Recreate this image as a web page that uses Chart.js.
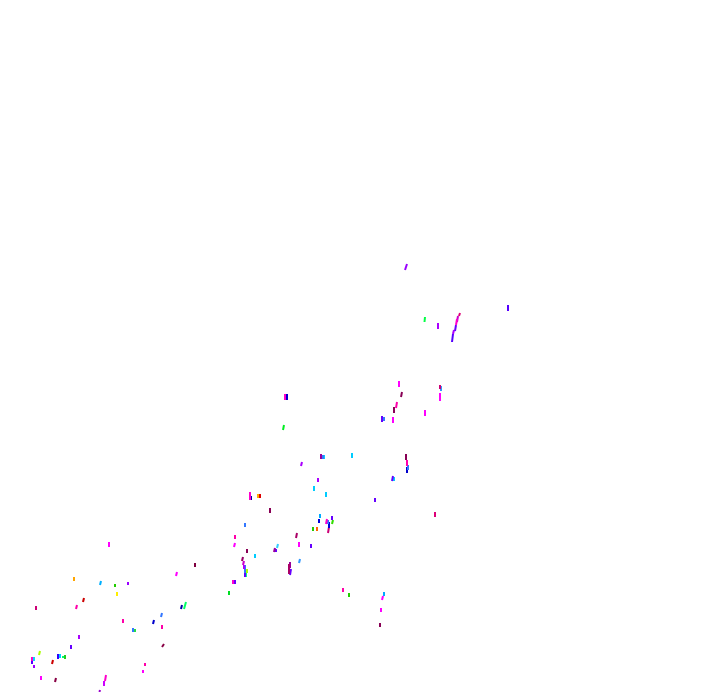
<!DOCTYPE html>
<html>
<head>
<meta charset="utf-8">
<script src="https://cdn.jsdelivr.net/npm/chart.js@4.4.1/dist/chart.umd.min.js"></script>
<style>
  html, body { margin: 0; padding: 0; background: #ffffff; }
  #wrap { width: 720px; height: 692px; position: relative; }
</style>
</head>
<body>
<div id="wrap"><canvas id="chart"></canvas></div>
<script>
// each stroke: start (lower end) and end (upper end), depth measured from top
const strokeX0 = [405, 424.5, 438, 459, 456, 457, 455, 453, 452, 508,
  195, 176, 74, 100, 115, 128, 117, 83, 36, 76,
  184, 181, 161, 153, 123, 133, 135, 162, 162, 79,
  71, 39, 58, 60, 63, 65, 32, 34, 32, 34,
  52, 145, 143, 41, 55, 105, 103, 99.5, 285, 287,
  283, 321, 323, 324, 352, 301, 318, 314, 326, 250,
  251, 258, 260, 270, 245, 235, 234, 247, 255, 242,
  243, 244, 245, 245, 247, 246, 233, 235, 229, 274,
  276, 277, 296, 299, 311, 289, 290, 290, 299, 313,
  317, 320, 319, 326, 328, 329, 328, 332, 332, 343,
  349, 399, 440, 441, 440, 401, 396, 394, 382, 384,
  393, 425, 406, 407, 408, 407, 392, 394, 375, 435,
  384, 382, 381, 380, 108]
const strokeX1 = [407, 425, 438, 460, 457, 458, 456, 454, 453, 508,
  195, 177, 74, 101, 115, 128, 117, 84, 36, 77,
  186, 182, 162, 154, 123, 133, 135, 162, 164, 79,
  71, 40, 58, 60, 63, 65, 32, 34, 32, 34,
  53, 145, 143, 41, 56, 106, 104, 100, 285, 287,
  284, 321, 323, 324, 352, 302, 318, 314, 326, 250,
  251, 258, 260, 270, 245, 235, 235, 247, 255, 243,
  244, 244, 245, 245, 247, 246, 233, 235, 229, 275,
  276, 278, 297, 299, 311, 289, 290, 291, 300, 313,
  317, 320, 319, 327, 328, 329, 329, 332, 333, 343,
  349, 399, 440, 441, 440, 402, 397, 394, 382, 384,
  393, 425, 406, 407, 408, 407, 393, 394, 375, 435,
  384, 383, 381, 380, 109]
const strokeY0 = [270, 322, 329, 316, 325, 322, 331, 334, 342, 311,
  567, 576, 581, 585, 587, 585, 596, 602, 610, 609,
  609, 609, 617, 624, 623, 632, 632, 629, 647, 639,
  649, 655, 659, 658, 658, 659, 661, 661, 664, 668,
  664, 666, 673, 680, 682, 681, 685, 692, 400, 400,
  430, 459, 459, 459, 458, 466, 482, 491, 497, 500,
  500, 498, 498, 513, 527, 539, 547, 553, 558, 561,
  565, 569, 573, 577, 573, 577, 584, 584, 595, 552,
  552, 548, 538, 547, 548, 574, 568, 575, 563, 531,
  531, 518, 523, 524, 524, 528, 533, 520, 524, 592,
  597, 387, 389, 391, 401, 397, 408, 413, 422, 421,
  423, 416, 460, 466, 470, 473, 481, 481, 502, 517,
  596, 600, 612, 627, 546]
const strokeY1 = [264, 317, 323, 313, 319, 316, 325, 330, 334, 305,
  563, 572, 577, 581, 584, 582, 592, 598, 606, 605,
  602, 605, 613, 620, 619, 628, 629, 625, 644, 635,
  645, 651, 654, 654, 656, 655, 657, 657, 661, 665,
  660, 663, 670, 676, 678, 675, 681, 690, 394, 394,
  425, 454, 455, 455, 453, 462, 478, 486, 492, 492,
  496, 494, 494, 508, 523, 535, 543, 549, 554, 557,
  561, 565, 565, 570, 569, 573, 580, 580, 591, 548,
  549, 544, 533, 542, 544, 564, 562, 569, 559, 527,
  527, 514, 519, 519, 520, 522, 527, 516, 520, 588,
  593, 381, 385, 386, 393, 392, 402, 407, 416, 417,
  417, 410, 454, 460, 465, 467, 476, 477, 498, 512,
  592, 596, 608, 623, 542]
const strokeColor = ["#9900ff", "#00ff44", "#aa00ff", "#dd0077", "#ff00cc", "#cc00cc", "#6600ff", "#aa00ff", "#5500ff", "#5500ff",
  "#800040", "#ff00ff", "#ffa500", "#00b0ff", "#22cc00", "#9900ff", "#ffee00", "#cc0000", "#cc0077", "#ff00aa",
  "#00ff66", "#0000aa", "#3377ff", "#0000cc", "#ff00aa", "#3377ff", "#22dd44", "#ff00aa", "#880044", "#aa00ff",
  "#6600ff", "#aaff00", "#3300ff", "#00d0ff", "#00ff66", "#22cc22", "#ff00cc", "#00ddff", "#5500ff", "#9900ff",
  "#cc0000", "#ff00aa", "#ff00ff", "#ff00ff", "#880044", "#ff00cc", "#cc00ff", "#9900cc", "#ff00cc", "#0000cc",
  "#00ee22", "#990099", "#3377ff", "#00ccff", "#00ccff", "#aa00ff", "#aa00ff", "#00ccff", "#00ccff", "#ff00cc",
  "#0000aa", "#ffaa00", "#dd0000", "#880055", "#3377ff", "#ff00aa", "#ff00ff", "#880055", "#00ccff", "#990066",
  "#cc00cc", "#aa00ff", "#3377ff", "#6600ff", "#aaff00", "#00ff88", "#ff00cc", "#6600ff", "#00dd22", "#990099",
  "#6600ff", "#33ccff", "#aa0066", "#ff00ff", "#6600ff", "#aa0066", "#990099", "#6600ff", "#3399ff", "#22cc00",
  "#ff6600", "#00aaff", "#0000dd", "#ff00cc", "#3377ff", "#0000dd", "#cc0077", "#6600ff", "#33dd00", "#ff00aa",
  "#22cc00", "#ff00ff", "#cc0077", "#3399ff", "#ff00ff", "#880055", "#ff00aa", "#880055", "#6600ff", "#3377ff",
  "#ff00ff", "#ff00ff", "#880055", "#ff00aa", "#3377ff", "#0000cc", "#6600ff", "#00ccff", "#6600ff", "#dd0077",
  "#00aaff", "#ff00ff", "#ff00ff", "#880055", "#ff00ff"]

// montar um dataset por traço
const datasets = strokeX0.map((x0, i) => ({
  data: [
    { x: x0, y: strokeY0[i] },
    { x: strokeX1[i], y: strokeY1[i] },
  ],
  showLine: true,
  borderColor: strokeColor[i],
  borderWidth: 2,
  borderCapStyle: "butt",
  pointRadius: 0,
  pointHoverRadius: 0,
  fill: false,
}))

const ctx = document.getElementById("chart").getContext("2d")
new Chart(ctx, {
  type: "scatter",
  data: { datasets },
  options: {
    responsive: true,
    maintainAspectRatio: false,
    animation: false,
    layout: { padding: 0 },
    plugins: {
      legend: { display: false },
      tooltip: { enabled: false },
    },
    scales: {
      x: { type: "linear", min: 0, max: 720, display: false },
      y: { type: "linear", min: 0, max: 692, reverse: true, display: false },
    },
  },
})
</script>
</body>
</html>
